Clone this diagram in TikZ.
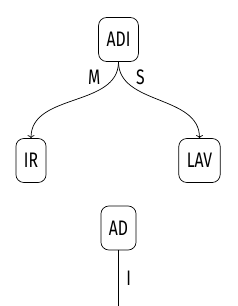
\documentclass[tikz,border=0pt]{standalone}
\usepackage{fontspec}
\setmainfont{Fira Sans}
\usepackage{tikz}
\usetikzlibrary{arrows.meta}
\newcommand\narrow[1]{\scalebox{0.75}[1]{#1}}

\begin{document}
\begin{tikzpicture}[x=1pt, y=-1pt, line width=0.7pt, >={To[length=3pt,width=7pt]},
    box/.style={draw, rounded corners=8pt, minimum height=44pt, inner xsep=8pt,
      font=\fontsize{21}{25}\selectfont},
    lbl/.style={font=\fontsize{21}{25}\selectfont, inner sep=0pt}]
  \useasboundingbox (0,0) rectangle (238,306);
  % nodes
  \node[box] (adi) at (118.5,39.5) {\narrow{ADI}};
  \node[box] (ir)  at (31,160.5)   {\narrow{IR}};
  \node[box] (lav) at (199.5,160.5) {\narrow{LAV}};
  \node[box] (ad)  at (118.5,228) {\narrow{AD}};
  \coordinate (end) at (118.5,306);
  % edges
  \draw[->] (adi.south) to[out=-90, in=90] node[lbl, pos=0.14, left=13pt]{\narrow{M}} (ir.north);
  \draw[->] (adi.south) to[out=-90, in=90] node[lbl, pos=0.14, right=13pt]{\narrow{S}} (lav.north);
  \draw (ad.south) -- node[lbl, pos=0.5, right=7.5pt]{\narrow{I}} (end);
\end{tikzpicture}
\end{document}
